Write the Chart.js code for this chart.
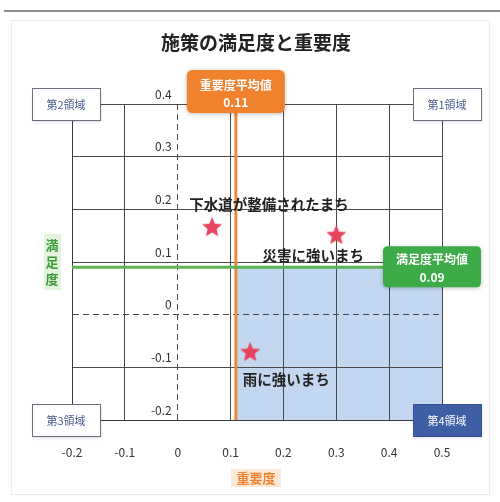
<!DOCTYPE html>
<html>
<head>
<meta charset="utf-8">
<script src="https://cdn.jsdelivr.net/npm/chart.js@4/dist/chart.umd.min.js"></script>
<style>
  html, body { margin: 0; padding: 0; background: #ffffff; }
  #wrap { width: 500px; height: 502px; }
</style>
</head>
<body>
<div id="wrap"><canvas id="c" width="500" height="502"></canvas></div>
<script>
// 施策ごとの重要度（横軸）と満足度（縦軸）
const categories = ['下水道が整備されたまち', '災害に強いまち', '雨に強いまち'];
const importance = [0.065, 0.30, 0.137];
const satisfaction = [0.167, 0.152, -0.07];

// 平均値
const importanceAvg = 0.11;
const satisfactionAvg = 0.09;

// 目盛り
const xTicks = [-0.2, -0.1, 0, 0.1, 0.2, 0.3, 0.4, 0.5];
const yTicks = [-0.2, -0.1, 0, 0.1, 0.2, 0.3, 0.4];
const xTickLabels = ['-0.2', '-0.1', '0', '0.1', '0.2', '0.3', '0.4', '0.5'];
const yTickLabels = ['-0.2', '-0.1', '0', '0.1', '0.2', '0.3', '0.4'];

// 領域ラベル
const quadrantLabels = ['第1領域', '第2領域', '第3領域', '第4領域'];

const FONT = '"Noto Sans CJK JP", "Noto Sans", sans-serif';

// ラベルの位置（マーカーからのずれ）
const labelOffsets = [[57, -22], [-23, 21], [36, 28]];

// 塗りつぶした五角星のマーカー
function makeStar(size, color) {
  const cv = document.createElement('canvas');
  cv.width = size; cv.height = size;
  const g = cv.getContext('2d');
  const cx = size / 2, cy = size / 2 + size * 0.04;
  const R = size * 0.48, r = R * 0.45;
  g.beginPath();
  for (let i = 0; i < 10; i++) {
    const rad = i % 2 === 0 ? R : r;
    const a = -Math.PI / 2 + i * Math.PI / 5;
    const px = cx + rad * Math.cos(a), py = cy + rad * Math.sin(a);
    if (i === 0) g.moveTo(px, py); else g.lineTo(px, py);
  }
  g.closePath();
  g.fillStyle = color;
  g.fill();
  return cv;
}
const starImg = makeStar(22, '#e8435e');

function roundRect(ctx, x, y, w, h, r) {
  ctx.beginPath();
  ctx.moveTo(x + r, y);
  ctx.lineTo(x + w - r, y);
  ctx.quadraticCurveTo(x + w, y, x + w, y + r);
  ctx.lineTo(x + w, y + h - r);
  ctx.quadraticCurveTo(x + w, y + h, x + w - r, y + h);
  ctx.lineTo(x + r, y + h);
  ctx.quadraticCurveTo(x, y + h, x, y + h - r);
  ctx.lineTo(x, y + r);
  ctx.quadraticCurveTo(x, y, x + r, y);
  ctx.closePath();
}

const decor = {
  id: 'decor',
  beforeDraw(chart) {
    const ctx = chart.ctx;
    const xs = chart.scales.x, ys = chart.scales.y;
    ctx.save();
    ctx.fillStyle = '#ffffff';
    ctx.fillRect(0, 0, chart.width, chart.height);
    // 上部の区切り線と外枠
    ctx.strokeStyle = '#8c8c8c';
    ctx.lineWidth = 2;
    ctx.beginPath(); ctx.moveTo(4, 11); ctx.lineTo(500, 11); ctx.stroke();
    ctx.strokeStyle = '#ececec';
    ctx.lineWidth = 1;
    ctx.strokeRect(11.5, 20.5, 478, 474);
    // 第4領域の網掛け
    const x0 = xs.getPixelForValue(importanceAvg), x1 = xs.getPixelForValue(xs.max);
    const y0 = ys.getPixelForValue(satisfactionAvg), y1 = ys.getPixelForValue(ys.min);
    ctx.fillStyle = '#c3d8f0';
    ctx.fillRect(x0, y0, x1 - x0, y1 - y0);
    ctx.restore();
  },
  afterDraw(chart) {
    const ctx = chart.ctx;
    const xs = chart.scales.x, ys = chart.scales.y;
    ctx.save();

    // タイトル
    ctx.fillStyle = '#222222';
    ctx.font = 'bold 19px ' + FONT;
    ctx.textAlign = 'center';
    ctx.textBaseline = 'middle';
    ctx.fillText('施策の満足度と重要度', 256, 43);

    // 目盛りラベル
    ctx.font = '12px ' + FONT;
    ctx.fillStyle = '#333333';
    const xZero = xs.getPixelForValue(0);
    ctx.textAlign = 'right';
    yTicks.forEach((v, i) => {
      ctx.fillText(yTickLabels[i], xZero - 6, ys.getPixelForValue(v) - 10);
    });
    ctx.textAlign = 'center';
    xTicks.forEach((v, i) => {
      ctx.fillText(xTickLabels[i], xs.getPixelForValue(v), 452);
    });

    // 軸タイトル
    ctx.fillStyle = '#e3f3de';
    ctx.fillRect(44, 234, 17, 56);
    ctx.fillStyle = '#3a9a3a';
    ctx.font = 'bold 13px ' + FONT;
    ['満', '足', '度'].forEach((ch, i) => ctx.fillText(ch, 52, 245 + i * 17));
    ctx.fillStyle = '#fde9d6';
    ctx.fillRect(231, 469, 50, 18);
    ctx.fillStyle = '#ee8433';
    ctx.fillText('重要度', 256, 478);

    // 施策ラベル
    ctx.fillStyle = '#222222';
    ctx.font = 'bold 14.5px ' + FONT;
    categories.forEach((name, i) => {
      const px = xs.getPixelForValue(importance[i]);
      const py = ys.getPixelForValue(satisfaction[i]);
      ctx.fillText(name, px + labelOffsets[i][0], py + labelOffsets[i][1]);
    });

    // 平均値ラベル
    const ox = xs.getPixelForValue(importanceAvg);
    ctx.shadowColor = 'rgba(0,0,0,0.25)';
    ctx.shadowBlur = 4;
    ctx.shadowOffsetY = 1;
    ctx.fillStyle = '#f0822d';
    roundRect(ctx, ox - 49, 70, 98, 43, 6);
    ctx.fill();
    const gy = ys.getPixelForValue(satisfactionAvg);
    ctx.fillStyle = '#3dab48';
    roundRect(ctx, 383, gy - 21, 98, 41, 5);
    ctx.fill();
    ctx.shadowColor = 'transparent';
    ctx.fillStyle = '#ffffff';
    ctx.font = 'bold 12px ' + FONT;
    ctx.fillText('重要度平均値', ox, 85);
    ctx.fillText(String(importanceAvg), ox, 102);
    ctx.fillText('満足度平均値', 432, gy - 8);
    ctx.fillText(String(satisfactionAvg), 432, gy + 10);

    // 領域ラベル
    const L = xs.getPixelForValue(xs.min), R = xs.getPixelForValue(xs.max);
    const T = ys.getPixelForValue(ys.max), B = ys.getPixelForValue(ys.min);
    const boxes = [
      [R + 5, T, quadrantLabels[0], false],
      [L - 6, T, quadrantLabels[1], false],
      [L - 6, B, quadrantLabels[2], false],
      [R + 5, B, quadrantLabels[3], true]
    ];
    ctx.font = '11px ' + FONT;
    boxes.forEach(([cx, cy, text, filled]) => {
      const w = 68, h = 32;
      const bx = Math.round(cx - w / 2) + 0.5, by = Math.round(cy - h / 2) + 0.5;
      ctx.shadowColor = 'rgba(0,0,0,0.2)';
      ctx.shadowBlur = 3;
      ctx.fillStyle = filled ? '#3e5fa6' : '#ffffff';
      ctx.fillRect(bx, by, w, h);
      ctx.shadowColor = 'transparent';
      ctx.strokeStyle = filled ? '#34518f' : '#6b7080';
      ctx.lineWidth = 1;
      ctx.strokeRect(bx, by, w, h);
      ctx.fillStyle = filled ? '#ffffff' : '#4a5d8c';
      ctx.fillText(text, cx, cy + 1);
    });

    ctx.restore();
  }
};

const points = categories.map((c, i) => ({ x: importance[i], y: satisfaction[i] }));

new Chart(document.getElementById('c'), {
  type: 'scatter',
  data: {
    datasets: [
      {
        label: '重要度平均値',
        type: 'line',
        data: [{ x: importanceAvg, y: -0.2 }, { x: importanceAvg, y: 0.4 }],
        borderColor: '#e98b3e',
        borderWidth: 3,
        pointRadius: 0,
        order: 3
      },
      {
        label: '満足度平均値',
        type: 'line',
        data: [{ x: -0.2, y: satisfactionAvg }, { x: 0.5, y: satisfactionAvg }],
        borderColor: '#5cb553',
        borderWidth: 3,
        pointRadius: 0,
        order: 2
      },
      {
        label: '施策',
        data: points,
        pointStyle: starImg,
        pointRadius: 11,
        order: 1
      }
    ]
  },
  options: {
    responsive: false,
    animation: false,
    devicePixelRatio: 1,
    layout: { padding: { left: 72, top: 104, right: 58, bottom: 82 } },
    plugins: {
      legend: { display: false },
      title: { display: false },
      tooltip: { enabled: false }
    },
    scales: {
      x: {
        type: 'linear',
        min: -0.2,
        max: 0.5,
        afterBuildTicks: (s) => { s.ticks = xTicks.map(v => ({ value: v })); },
        ticks: { display: false },
        grid: {
          drawTicks: false,
          color: '#4a4a4a',
          lineWidth: 1
        },
        border: {
          color: '#3a3a3a',
          width: 1,
          dash: (ctx) => (ctx.tick && ctx.tick.value === 0 ? [6, 4] : [])
        }
      },
      y: {
        type: 'linear',
        min: -0.2,
        max: 0.4,
        afterBuildTicks: (s) => { s.ticks = yTicks.map(v => ({ value: v })); },
        ticks: { display: false },
        grid: {
          drawTicks: false,
          color: '#4a4a4a',
          lineWidth: 1
        },
        border: {
          color: '#3a3a3a',
          width: 1,
          dash: (ctx) => (ctx.tick && ctx.tick.value === 0 ? [6, 4] : [])
        }
      }
    }
  },
  plugins: [decor]
});
</script>
</body>
</html>
